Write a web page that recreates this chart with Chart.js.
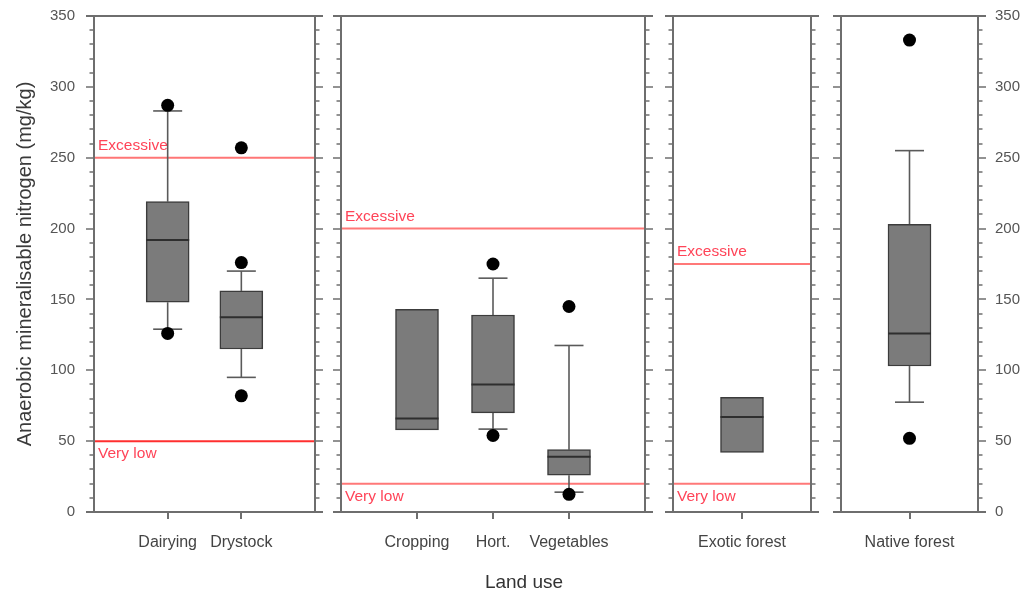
<!DOCTYPE html>
<html>
<head>
<meta charset="utf-8">
<title>Anaerobic mineralisable nitrogen by land use</title>
<script src="https://cdn.jsdelivr.net/npm/chart.js@4.4.1/dist/chart.umd.min.js"></script>
<style>
  html, body { margin: 0; padding: 0; background: #ffffff; }
  #wrap { position: relative; width: 1025px; height: 599px; overflow: hidden; }
  #wrap canvas { position: absolute; left: 0; top: 0; }
  #xtitle {
    position: absolute; left: 424px; width: 200px; top: 571px;
    line-height: 24px; text-align: center;
    font: 19px "Liberation Sans", Arial, Helvetica, sans-serif; color: #333333;
  }
</style>
</head>
<body>
<div id="wrap">
  <canvas id="panel0" width="1025" height="599"></canvas>
  <canvas id="panel1" width="1025" height="599"></canvas>
  <canvas id="panel2" width="1025" height="599"></canvas>
  <canvas id="panel3" width="1025" height="599"></canvas>
  <div id="xtitle">Land use</div>
</div>
<script>
// ---- data (mg/kg) ----
const categories    = ["Dairying", "Drystock", "Cropping", "Hort.", "Vegetables", "Exotic forest", "Native forest"];
const panelOf       = [0, 0, 1, 1, 1, 2, 3];
const lowerQuartile = [148, 115, 58, 70, 26, 42, 103];
const medianValue   = [192, 137.5, 66, 90, 39, 67, 126];
const upperQuartile = [219, 156, 143, 139, 44, 81, 203];
const whiskerLow    = [129, 95, null, 58.5, 14, null, 77.5];
const whiskerHigh   = [283, 170, null, 165, 117.5, null, 255];
const outliers      = [[287, 126], [257, 176, 82], [], [175, 54], [145, 12.5], [], [333, 52]];

// reference levels per panel
const excessiveLevel = [250, 200, 175, null];
const veryLowLevel   = [50, 20, 20, null];

// value axis
const yMin = 0, yMax = 350, yMajorStep = 50, yMinorStep = 10;

// ---- layout & style ----
const FONT = '"Liberation Sans", Arial, Helvetica, sans-serif';
const panelEdges = [[94, 315], [341, 645], [673, 811], [841, 978]];
const PLOT_TOP = 16, PLOT_BOTTOM = 512, CANVAS_W = 1025, CANVAS_H = 599;
const frameColour = '#6e6e6e';
const boxFill = '#7b7b7b', boxEdge = '#3c3c3c', whiskerColour = '#5a5a5a', medianColour = '#2e2e2e';
const levelText = '#ff4458';
const levelLine = [['#ff7676', '#ff2f2f'], ['#ff7878', '#ff7878'], ['#ff7878', '#ff7878'], ['#ff7878', '#ff7878']];

function makePanel(p) {
  const idx = categories.map((c, i) => i).filter(i => panelOf[i] === p);
  const cats = idx.map(i => categories[i]);
  const n = idx.length;
  const [left, right] = panelEdges[p];

  const boxData = idx.map((i, k) => ({ x: k + 1, y: [lowerQuartile[i], upperQuartile[i]] }));
  const outlierData = idx.flatMap((i, k) => outliers[i].map(v => ({ x: k + 1, y: v })));

  const seg = (ctx, x1, y1, x2, y2) => { ctx.beginPath(); ctx.moveTo(x1, y1); ctx.lineTo(x2, y2); ctx.stroke(); };

  // frame with outward major/minor ticks on both sides
  const frame = {
    id: 'panelFrame',
    afterDraw(chart) {
      const { ctx, chartArea: a } = chart;
      const ys = chart.scales.y;
      ctx.save();
      ctx.strokeStyle = frameColour;
      ctx.lineWidth = 1.5;
      for (let v = yMin; v <= yMax; v += yMinorStep) {
        const py = Math.round(ys.getPixelForValue(v));
        const len = v % yMajorStep === 0 ? 8 : 4.5;
        seg(ctx, a.left - len, py, a.left, py);
        seg(ctx, a.right, py, a.right + len, py);
      }
      ctx.lineWidth = 2;
      seg(ctx, a.left - 8, a.top, a.right + 8, a.top);
      seg(ctx, a.left - 8, a.bottom, a.right + 8, a.bottom);
      seg(ctx, a.left, a.top, a.left, a.bottom);
      seg(ctx, a.right, a.top, a.right, a.bottom);
      ctx.restore();
    }
  };

  // reference levels, whiskers and medians
  const boxParts = {
    id: 'boxParts',
    beforeDatasetsDraw(chart) {
      const { ctx, chartArea: a } = chart;
      const xs = chart.scales.x, ys = chart.scales.y;
      ctx.save();
      ctx.lineWidth = 2;
      ctx.font = '15.5px ' + FONT;
      ctx.fillStyle = levelText;
      if (excessiveLevel[p] != null) {
        const py = ys.getPixelForValue(excessiveLevel[p]);
        ctx.strokeStyle = levelLine[p][0];
        seg(ctx, a.left, py, a.right, py);
        ctx.textBaseline = 'alphabetic';
        ctx.fillText('Excessive', a.left + 4, py - 8);
      }
      if (veryLowLevel[p] != null) {
        const py = ys.getPixelForValue(veryLowLevel[p]);
        ctx.strokeStyle = levelLine[p][1];
        seg(ctx, a.left, py, a.right, py);
        ctx.textBaseline = 'top';
        ctx.fillText('Very low', a.left + 4, py + 5);
      }
      ctx.strokeStyle = whiskerColour;
      ctx.lineWidth = 1.6;
      idx.forEach((i, k) => {
        if (whiskerLow[i] == null) return;
        const px = xs.getPixelForValue(k + 1);
        const lo = ys.getPixelForValue(whiskerLow[i]);
        const hi = ys.getPixelForValue(whiskerHigh[i]);
        seg(ctx, px, lo, px, ys.getPixelForValue(lowerQuartile[i]));
        seg(ctx, px, ys.getPixelForValue(upperQuartile[i]), px, hi);
        seg(ctx, px - 14.5, lo, px + 14.5, lo);
        seg(ctx, px - 14.5, hi, px + 14.5, hi);
      });
      ctx.restore();
    },
    afterDatasetDraw(chart, args) {
      if (args.index !== 0) return;
      const { ctx } = chart;
      const ys = chart.scales.y;
      ctx.save();
      ctx.strokeStyle = medianColour;
      ctx.lineWidth = 2;
      chart.getDatasetMeta(0).data.forEach((bar, k) => {
        const py = ys.getPixelForValue(medianValue[idx[k]]);
        seg(ctx, bar.x - bar.width / 2, py, bar.x + bar.width / 2, py);
      });
      ctx.restore();
    }
  };

  const yAxis = {
    min: yMin, max: yMax,
    display: p === 0 || p === 3,
    position: p === 3 ? 'right' : 'left',
    grid: { display: false, drawTicks: false },
    border: { display: false },
    ticks: { stepSize: yMajorStep, padding: p === 3 ? 17 : 19, color: '#555555', font: { family: FONT, size: 15 } },
    afterFit(s) {
      s.width = p === 0 ? left : (p === 3 ? CANVAS_W - right : 0);
      s.paddingTop = 0;
      s.paddingBottom = 0;
    }
  };
  if (p === 0) {
    yAxis.title = {
      display: true,
      text: 'Anaerobic mineralisable nitrogen (mg/kg)',
      color: '#3a3a3a',
      font: { family: FONT, size: 20 },
      padding: { top: 13.5, bottom: 0 }
    };
  }

  return new Chart(document.getElementById('panel' + p), {
    type: 'bar',
    data: {
      datasets: [
        {
          type: 'bar', data: boxData, order: 2,
          backgroundColor: boxFill, borderColor: boxEdge, borderWidth: 1.5,
          borderSkipped: false, barThickness: 43, grouped: false
        },
        {
          type: 'scatter', data: outlierData, order: 1,
          pointRadius: 6.5, pointBackgroundColor: '#000000', pointBorderWidth: 0, showLine: false
        }
      ]
    },
    options: {
      responsive: false,
      animation: false,
      devicePixelRatio: 1,
      layout: {
        padding: {
          left: p === 0 ? 0 : left,
          right: p === 3 ? 0 : CANVAS_W - right,
          top: PLOT_TOP,
          bottom: 0
        }
      },
      plugins: { legend: { display: false }, tooltip: { enabled: false } },
      scales: {
        x: {
          type: 'linear', min: 0, max: n + 1, offset: false,
          afterBuildTicks(s) { s.ticks = cats.map((c, k) => ({ value: k + 1 })); },
          afterFit(s) {
            s.height = CANVAS_H - PLOT_BOTTOM;
            s.paddingLeft = 0;
            s.paddingRight = 0;
          },
          grid: { offset: false, drawOnChartArea: false, drawTicks: true, tickLength: 7, color: frameColour, lineWidth: 2 },
          border: { display: false },
          ticks: {
            autoSkip: false, maxRotation: 0, padding: 14,
            color: '#444444', font: { family: FONT, size: 16 },
            callback: (v, k) => cats[k]
          }
        },
        y: yAxis
      }
    },
    plugins: [frame, boxParts]
  });
}

[0, 1, 2, 3].forEach(makePanel);
</script>
</body>
</html>
